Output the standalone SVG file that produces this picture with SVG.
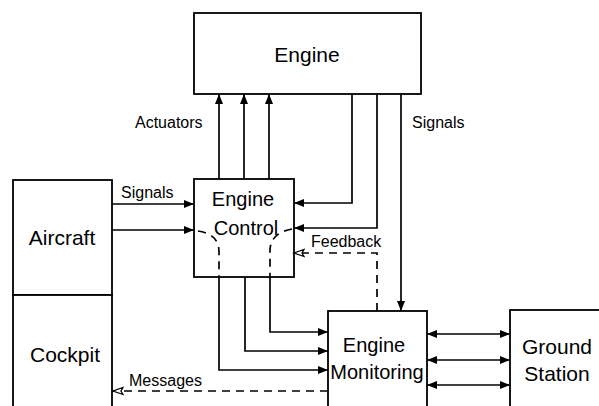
<svg xmlns="http://www.w3.org/2000/svg" width="599" height="406" viewBox="0 0 599 406">
<style>
.box{fill:#fff;stroke:#000;stroke-width:1.8}
.big{font-family:"Liberation Sans",Arial,sans-serif;font-size:21px;fill:#000;text-anchor:middle}
.mid{font-family:"Liberation Sans",Arial,sans-serif;font-size:20px;fill:#000;text-anchor:middle}
.lbl{font-family:"Liberation Sans",Arial,sans-serif;font-size:16px;fill:#000}
.c{fill:none;stroke:#000;stroke-width:1.7}
.d{fill:none;stroke:#000;stroke-width:1.7;stroke-dasharray:8 6}
.a{marker-end:url(#ah)}
.ab{marker-start:url(#ah);marker-end:url(#ah)}
.o{marker-end:url(#oh)}
</style>
<defs>
<marker id="ah" markerWidth="11" markerHeight="8" refX="10" refY="4" orient="auto-start-reverse" markerUnits="userSpaceOnUse"><path d="M0,0 L10,4 L0,8 Z" fill="#000"/></marker>
<marker id="oh" markerWidth="13" markerHeight="10" refX="11" refY="5" orient="auto" markerUnits="userSpaceOnUse"><path d="M1,1.5 L11,5 L1,8.5 L3,5 Z" fill="#fff" stroke="#000" stroke-width="1.3"/></marker>
</defs>
<rect width="599" height="406" fill="#fff"/>
<g id="engine"><rect class="box" x="194" y="13" width="227" height="81"/><text class="big" x="307" y="62">Engine</text></g>
<g id="engine-control"><rect class="box" x="194" y="179" width="100" height="98"/><text class="mid" x="243" y="206">Engine</text><text class="mid" x="246" y="235">Control</text></g>
<g id="aircraft"><rect class="box" x="13" y="180" width="99" height="115"/><text class="big" x="62" y="245">Aircraft</text></g>
<g id="cockpit"><rect class="box" x="13" y="295" width="99" height="120"/><text class="big" x="65" y="362">Cockpit</text></g>
<g id="engine-monitoring"><rect class="box" x="328" y="311" width="99" height="110"/><text class="mid" x="374" y="352">Engine</text><text class="mid" x="377" y="379">Monitoring</text></g>
<g id="ground-station"><rect class="box" x="510" y="310" width="110" height="110"/><text class="big" x="557" y="354">Ground</text><text class="big" x="557" y="381">Station</text></g>
<g id="connectors">
<path class="c a" d="M219,179 V94"/>
<path class="c a" d="M244,179 V94"/>
<path class="c a" d="M269,179 V94"/>
<path class="c a" d="M352,94 V203 H294"/>
<path class="c a" d="M377,94 V228 H294"/>
<path class="c a" d="M401,94 V311"/>
<path class="d o" d="M377,311 V253 H294"/>
<path class="c a" d="M112,204 H194"/>
<path class="c a" d="M112,230 H194"/>
<path class="d" d="M198,231 Q219,234 219,252 V277"/>
<path class="d" d="M292,229 Q270,233 270,251 V277"/>
<path class="c a" d="M270,277 V332 H328"/>
<path class="c a" d="M245,277 V351 H328"/>
<path class="c a" d="M219,277 V370 H328"/>
<path class="d o" d="M328,391 H113"/>
<path class="c ab" d="M427,334 H510"/>
<path class="c ab" d="M427,360 H510"/>
<path class="c ab" d="M427,385 H510"/>
<text class="lbl" x="135" y="128">Actuators</text>
<text class="lbl" x="412" y="128">Signals</text>
<text class="lbl" x="121" y="198">Signals</text>
<text class="lbl" x="311" y="247">Feedback</text>
<text class="lbl" x="129" y="386">Messages</text>
</g>
</svg>
